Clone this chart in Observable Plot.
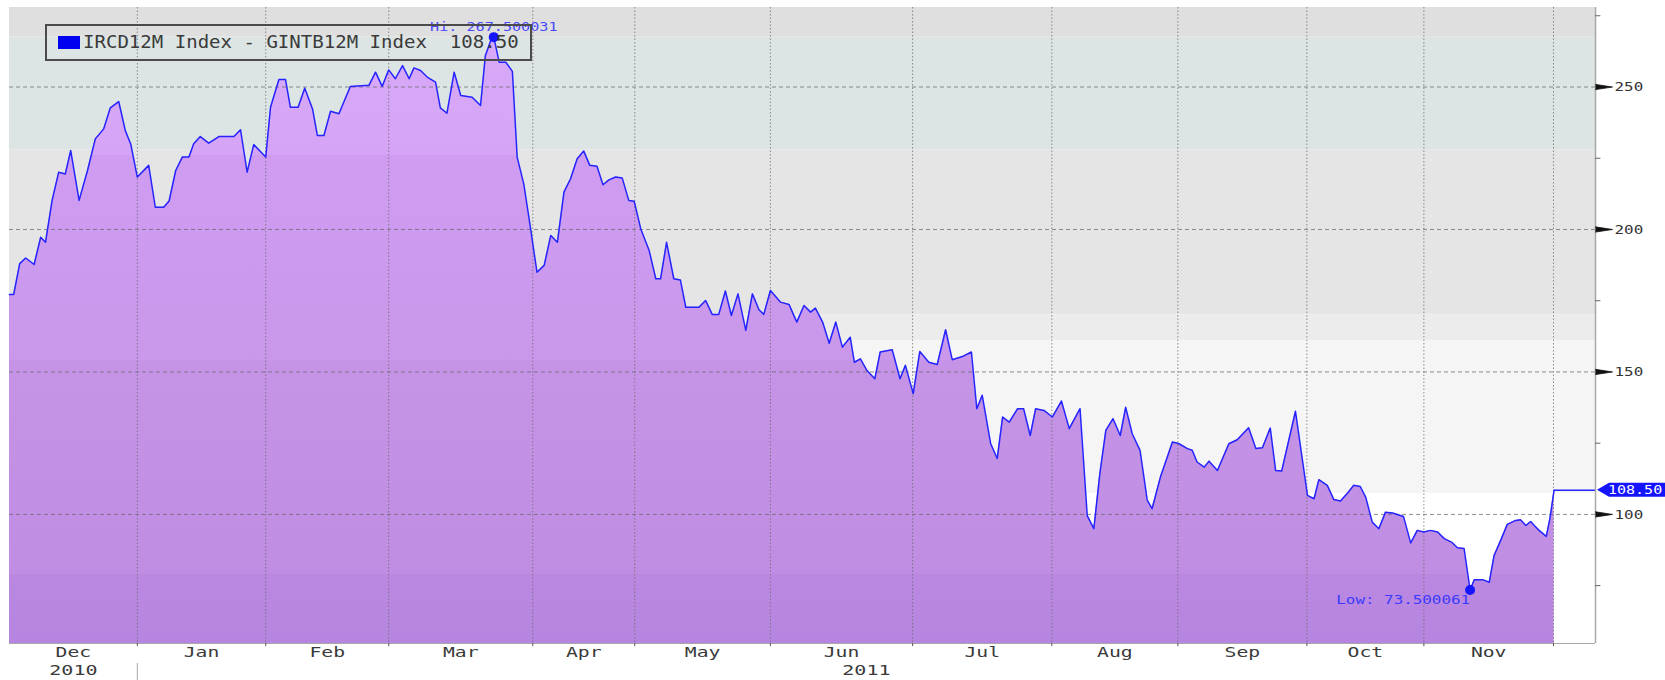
<!DOCTYPE html>
<html>
<head>
<meta charset="utf-8">
<script src="https://cdn.jsdelivr.net/npm/d3@7"></script>
<script src="https://cdn.jsdelivr.net/npm/@observablehq/plot@0.6"></script>
<style>
html, body { margin: 0; padding: 0; background: #ffffff; }
#wrap { position: relative; width: 1665px; height: 680px; overflow: hidden; }
#legend { position: absolute; left: 45px; top: 24px; width: 483px; height: 33px; border: 2px solid #4b4b4b; }
#legend .sw { position: absolute; left: 11px; top: 10px; width: 22px; height: 13px; background: #0000f0; }
#legend .lt { position: absolute; left: 36px; top: 6px; font-family: "DejaVu Sans Mono", monospace; font-size: 17px; line-height: 20px; color: #3a3a3a; white-space: pre; transform: scaleX(1.12); transform-origin: 0 0; }
</style>
</head>
<body>
<div id="wrap">
  <div id="chart"></div>
  <div id="legend"><span class="sw"></span><span class="lt"></span></div>
</div>
<script>
// ---- data (x = trading-day position from 1 Dec 2010, y = spread value) ----
const days = [0, 0.7, 1.7, 2.7, 4.1, 5.2, 6.0, 7.1, 8.2, 9.3, 10.2, 11.6, 13.0, 14.3, 15.7, 16.8, 18.2, 19.3, 20.2, 21.3,
  23.2, 24.3, 25.7, 26.6, 27.7, 28.8, 29.9, 30.7, 31.8, 33.2, 34.9, 37.4, 38.5, 39.6, 40.7, 42.7, 43.5, 44.9, 46.0, 46.8,
  48.1, 49.2, 50.5, 51.3, 52.4, 53.5, 54.9, 56.8, 59.9, 61.0, 62.1, 63.2, 64.3, 65.5, 66.6, 67.4, 68.5, 69.6, 71.0, 71.8,
  72.9, 74.1, 75.2, 77.1, 78.5, 79.3, 80.2, 80.7, 81.6, 82.7, 83.8, 84.6, 85.7, 86.8, 87.9, 89.1, 90.2, 91.3, 92.4, 93.5,
  94.6, 95.7, 96.7, 97.9, 98.9, 99.9, 101.0, 102.1, 103.2, 104.1, 105.2, 106.6, 107.7, 108.5, 109.5, 110.7, 111.8, 112.7, 114.9, 116.0,
  117.1, 118.2, 119.3, 120.3, 121.4, 122.7, 123.8, 124.9, 125.7, 126.8, 128.5, 129.9, 131.2, 132.4, 133.5, 134.3, 135.5, 136.6, 137.7, 138.8,
  140.1, 140.8, 141.8, 142.9, 144.2, 145.1, 147.1, 148.4, 149.3, 150.6, 151.7, 153.2, 154.6, 156.0, 157.1, 158.8, 160.3, 161.2, 162.1, 163.5,
  164.6, 165.5, 166.6, 168.0, 169.0, 170.1, 171.0, 172.4, 173.8, 175.3, 176.6, 178.4, 179.6, 180.7, 181.7, 182.7, 183.9, 185.1, 186.0, 187.1,
  188.4, 189.6, 190.4, 191.8, 193.8, 194.9, 196.3, 197.1, 197.9, 199.1, 199.9, 201.3, 203.2, 204.6, 206.5, 207.7, 208.8, 210.1, 211.0, 212.0,
  214.3, 216.3, 217.4, 218.2, 219.6, 220.7, 221.8, 223.0, 224.0, 225.1, 226.0, 227.1, 228.2, 229.3, 230.5, 232.3, 233.5, 234.6, 235.7, 236.8,
  238.0, 239.1, 240.3, 241.3, 242.4, 243.4, 244.1, 245.5, 246.6, 247.4, 248.5, 249.6, 251.0, 251.8, 252.7, 253.5, 254.1, 254.9, 256.1, 256.7,
  257.4];
const values = [177.2, 177.2, 188.0, 190.0, 187.7, 197.3, 195.5, 210.2, 220.1, 219.5, 227.7, 210.2, 220.7, 231.8, 235.3, 242.7, 244.9, 234.7, 230.0, 218.4,
  222.5, 207.8, 207.8, 210.0, 220.7, 225.4, 225.4, 230.1, 232.6, 230.3, 232.6, 232.6, 235.0, 220.1, 229.8, 225.4, 242.9, 252.6, 252.6, 242.9,
  242.9, 249.6, 242.3, 233.0, 233.0, 241.5, 240.6, 250.2, 250.6, 255.2, 250.2, 256.0, 252.9, 257.5, 252.9, 256.7, 255.8, 253.5, 251.7, 242.7,
  240.8, 255.2, 247.0, 246.4, 243.5, 261.0, 266.3, 267.5, 258.7, 258.7, 255.5, 225.4, 216.0, 200.8, 185.0, 187.4, 197.9, 195.5, 213.1, 217.8,
  224.8, 227.5, 222.5, 222.2, 215.7, 217.4, 218.4, 218.1, 210.2, 209.9, 200.2, 192.6, 182.7, 182.7, 195.5, 182.7, 182.3, 172.7, 172.7, 175.1,
  170.2, 170.2, 178.4, 169.8, 177.4, 164.6, 177.4, 171.8, 170.2, 178.6, 174.5, 173.7, 167.5, 173.3, 171.0, 172.4, 167.5, 160.1, 167.5, 158.7,
  162.2, 153.4, 154.6, 150.5, 147.6, 157.0, 157.8, 147.6, 152.3, 142.4, 157.2, 153.4, 152.6, 164.8, 154.3, 155.4, 157.0, 137.1, 141.8, 124.9,
  119.6, 134.2, 132.4, 137.1, 137.1, 127.7, 137.1, 136.5, 134.2, 139.8, 130.1, 137.1, 99.6, 95.0, 114.3, 129.5, 133.6, 127.7, 137.6, 128.3,
  122.5, 105.0, 102.0, 113.1, 125.4, 124.8, 123.1, 122.5, 118.4, 116.6, 118.7, 115.4, 124.8, 126.2, 130.4, 123.1, 123.4, 130.3, 115.4, 115.2,
  136.2, 106.7, 105.5, 112.2, 110.2, 105.2, 104.7, 107.5, 110.2, 109.8, 106.1, 97.3, 95.0, 100.8, 100.5, 99.3, 90.0, 94.4, 93.8, 94.4,
  93.8, 91.5, 90.3, 88.3, 88.0, 73.5, 77.1, 77.1, 76.2, 85.6, 90.9, 96.5, 97.9, 98.1, 96.1, 97.5, 96.1, 94.4, 92.3, 98.5,
  108.5];
const monthNames = ["Dec", "Jan", "Feb", "Mar", "Apr", "May", "Jun", "Jul", "Aug", "Sep", "Oct", "Nov"];
const monthStartDays = [0, 21.3, 42.7, 63.2, 87.2, 104.2, 126.8, 150.5, 173.7, 194.7, 216.2, 235.7];
const periodEndDay = 257.3;
const yearNames = ["2010", "2011"];
const yearStartDays = [0, 21.3];
const yTickValues = [100, 150, 200, 250];
const yMinorValues = [75, 125, 175, 225, 275];
const lastPrice = 108.50;
const lastPriceText = "108.50";
const hiText = "Hi: 267.500031";
const lowText = "Low: 73.500061";
const legendText = "IRCD12M Index - GINTB12M Index  108.50";

// ---- layout / style ----
const X0 = 0, X1 = 264.3, Y0 = 54.7, Y1 = 277.9;
const series = days.map((t, i) => ({t, v: values[i]}));
const hiPoint = d3.greatest(series, d => d.v);
const lowPoint = d3.least(series, d => d.v);
const lastPoint = series[series.length - 1];
const gridDays = monthStartDays.slice(1).concat([periodEndDay]);
const months = monthNames.map((name, i) => ({name, mid: (monthStartDays[i] + (i + 1 < monthStartDays.length ? monthStartDays[i + 1] : periodEndDay)) / 2}));
const years = yearNames.map((name, i) => ({name, mid: (yearStartDays[i] + (i + 1 < yearStartDays.length ? yearStartDays[i + 1] : X1)) / 2}));

const bands = [
  {lo: 267.5, hi: Y1, color: "#dfdfdf"},
  {lo: 228, hi: 267.5, color: "#dce4e4"},
  {lo: 170, hi: 228, color: "#e5e5e5"},
  {lo: 161, hi: 170, color: "#ececec"},
  {lo: 107.3, hi: 161, color: "#f5f5f5"},
  {lo: Y0, hi: 107.3, color: "#ffffff"}
];
const fillStops = [
  {v: Y1, c: "#daabf9"}, {v: 226, c: "#d5a4f6"}, {v: 226, c: "#cf9cf2"},
  {v: 154, c: "#c998ea"}, {v: 154, c: "#c594e6"}, {v: 79, c: "#bf8ee3"},
  {v: 79, c: "#ba88e1"}, {v: Y0, c: "#b685df"}
];
const lineColor = "#2424ff";

const plot = Plot.plot({
  width: 1665,
  height: 680,
  marginLeft: 9,
  marginRight: 70,
  marginTop: 7,
  marginBottom: 37,
  x: {domain: [X0, X1], axis: null},
  y: {domain: [Y0, Y1], axis: null},
  color: {type: "identity"},
  style: {fontFamily: "'DejaVu Sans Mono', monospace", background: "#ffffff", overflow: "visible"},
  marks: [
    Plot.rect(bands, {x1: X0, x2: X1, y1: "lo", y2: "hi", fill: "color"}),
    Plot.areaY(series, {x: "t", y1: Y0, y2: "v", fill: "url(#areaFill)"}),
    Plot.ruleY(yTickValues, {stroke: "#6a6a6a", strokeOpacity: 0.75, strokeDasharray: "4,3"}),
    Plot.ruleX(gridDays, {stroke: "#6a6a6a", strokeOpacity: 0.75, strokeDasharray: "1.5,2"}),
    Plot.line(series, {x: "t", y: "v", stroke: lineColor, strokeWidth: 1.5}),
    Plot.ruleY([lastPoint], {x1: "t", x2: X1, y: "v", stroke: lineColor, strokeWidth: 1.5}),
    Plot.ruleX([X1], {stroke: "#a8a8a8", strokeWidth: 1.5}),
    Plot.ruleY([Y0], {stroke: "#a8a8a8"}),
    // right axis
    Plot.ruleY(yMinorValues, {x1: X1, x2: X1 + 0.9, stroke: "#666"}),
    Plot.vector(yTickValues, {x: X1, y: d => d, length: 17, rotate: 90, anchor: "start", shape: "spike", r: 2.6, fill: "#111", stroke: "#111", strokeWidth: 0.8}),
    Plot.text(yTickValues, {x: X1, y: d => d, text: d => String(d), textAnchor: "start", dx: 19, fontSize: 13, fill: "#333"}),
    // bottom axis
    Plot.ruleX(gridDays, {y1: Y0, y2: Y0 - 1.1, stroke: "#555"}),
    Plot.ruleX([yearStartDays[1]], {y1: Y0 - 7, y2: Y0 - 13, stroke: "#aaa"}),
    Plot.text(months, {x: "mid", text: "name", frameAnchor: "bottom", dy: 13, fontSize: 14.5, fill: "#3a3a3a"}),
    Plot.text(years, {x: "mid", text: "name", frameAnchor: "bottom", dy: 31, fontSize: 14.5, fill: "#3a3a3a"}),
    // hi / low
    Plot.dot([hiPoint, lowPoint], {x: "t", y: "v", r: 5, fill: "#1414ff"}),
    Plot.text([hiPoint], {x: "t", y: "v", text: () => hiText, dy: -10, fontSize: 12.5, fill: "#4848ff"}),
    Plot.text([lowPoint], {x: "t", y: "v", text: () => lowText, dy: 10, textAnchor: "end", fontSize: 12.5, fill: "#3a3aff"})
  ]
});

document.getElementById("chart").appendChild(plot);
document.querySelector("#legend .lt").textContent = legendText;

// gradient for the area fill, positioned with the y scale
const sy = plot.scale("y"), sx = plot.scale("x");
const svg = d3.select(plot);
const defs = svg.insert("defs", ":first-child");
const yTop = sy.apply(Y1), yBot = sy.apply(Y0);
const grad = defs.append("linearGradient").attr("id", "areaFill")
  .attr("gradientUnits", "userSpaceOnUse").attr("x1", 0).attr("x2", 0).attr("y1", yTop).attr("y2", yBot);
for (const s of fillStops) {
  grad.append("stop").attr("offset", (sy.apply(s.v) - yTop) / (yBot - yTop)).attr("stop-color", s.c);
}

// last price tag on the right axis
const ty = sy.apply(lastPrice), tx = sx.apply(X1);
const tag = svg.append("g");
tag.append("path").attr("d", `M${tx + 2},${ty}L${tx + 14},${ty - 7}H1665V${ty + 7}H${tx + 14}Z`).attr("fill", "#1414ff");
tag.append("text").attr("x", tx + 13).attr("y", ty).attr("dy", "0.36em").attr("fill", "#ffffff")
  .attr("text-anchor", "start").attr("font-size", 12).attr("font-family", "'DejaVu Sans Mono', monospace").text(lastPriceText);

// wide Bloomberg-style lettering: stretch glyphs horizontally by label kind
const stretch = new Map();
monthNames.forEach(m => stretch.set(m, 1.36));
yearNames.forEach(y => stretch.set(y, 1.38));
yTickValues.forEach(v => stretch.set(String(v), 1.22));
stretch.set(hiText, 1.21);
stretch.set(lowText, 1.27);
stretch.set(lastPriceText, 1.25);
plot.querySelectorAll("text").forEach(t => {
  const f = stretch.get(t.textContent);
  if (!f) return;
  const w = t.getComputedTextLength();
  if (w > 0) {
    t.setAttribute("textLength", (w * f).toFixed(1));
    t.setAttribute("lengthAdjust", "spacingAndGlyphs");
  }
});
</script>
</body>
</html>
